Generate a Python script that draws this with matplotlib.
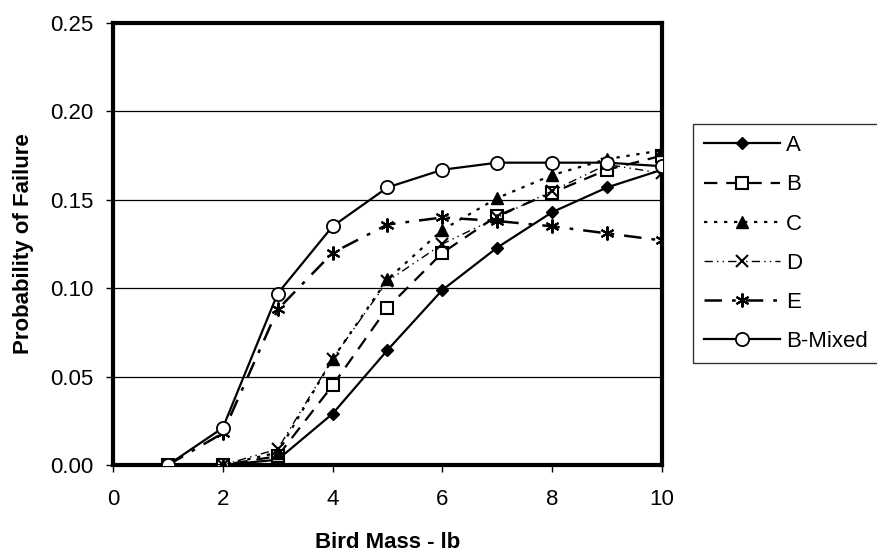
import matplotlib
matplotlib.use("Agg")
import matplotlib.pyplot as plt

plt.rcParams['font.family'] = ['Liberation Sans', 'DejaVu Sans']

mass = [1, 2, 3, 4, 5, 6, 7, 8, 9, 10]
A = [0.000, 0.000, 0.003, 0.029, 0.065, 0.099, 0.123, 0.143, 0.157, 0.167]
B = [0.000, 0.000, 0.005, 0.045, 0.089, 0.120, 0.141, 0.154, 0.167, 0.175]
C = [0.000, 0.000, 0.007, 0.060, 0.105, 0.133, 0.151, 0.164, 0.173, 0.178]
D = [0.000, 0.000, 0.009, 0.060, 0.104, 0.125, 0.140, 0.155, 0.170, 0.165]
E = [0.000, 0.018, 0.088, 0.120, 0.136, 0.140, 0.138, 0.135, 0.131, 0.127]
BM = [0.000, 0.021, 0.097, 0.135, 0.157, 0.167, 0.171, 0.171, 0.171, 0.169]

xticks = [0, 2, 4, 6, 8, 10]
yticks = [0.00, 0.05, 0.10, 0.15, 0.20, 0.25]

fig = plt.figure(figsize=(8.78, 5.52), dpi=100)
ax = fig.add_axes([113/878, 1-465/552, (662-113)/878, (465-23)/552])

for yv in yticks[1:-1]:
    ax.axhline(yv, color='black', lw=0.9, zorder=1)

k = dict(color='black', zorder=3)
ax.plot(mass, A, '-', lw=1.6, marker='D', ms=6.5, mfc='black', mec='black', label='A', **k)
ax.plot(mass, B, lw=1.6, dashes=(6, 4), marker='s', ms=8.5, mfc='white', mec='black', mew=1.5, label='B', **k)
ax.plot(mass, C, lw=1.6, dashes=(1.5, 3), marker='^', ms=8.5, mfc='black', mec='black', label='C', **k)
ax.plot(mass, D, lw=1.0, dashes=(6, 3, 1, 3, 1, 3), marker='x', ms=8, mew=1.5, label='D', **k)
ax.plot(mass, E, lw=1.8, dashes=(7, 4, 1.5, 4), marker=(6, 2, 0), ms=10, mew=1.5, label='E', **k)
ax.plot(mass, BM, '-', lw=1.6, marker='o', ms=9.5, mfc='white', mec='black', mew=1.3, label='B-Mixed', **k)

ax.set_xlim(0, 10)
ax.set_ylim(0, 0.25)
ax.set_xticks(xticks)
ax.set_yticks(yticks)
ax.set_xticklabels([str(v) for v in xticks])
ax.set_yticklabels([f"{v:.2f}" for v in yticks])
ax.tick_params(axis='both', direction='out', length=5, width=1, labelsize=16, colors='black')
ax.tick_params(axis='x', pad=12)
ax.tick_params(axis='y', pad=9)
for s in ax.spines.values():
    s.set_linewidth(3)
    s.set_color('black')

ax.set_xlabel('Bird Mass - lb', fontsize=16, fontweight='bold', labelpad=16)
ax.set_ylabel('Probability of Failure', fontsize=16, fontweight='bold', labelpad=12)

leg = fig.legend(loc='upper left', bbox_to_anchor=(693/878, 1-124/552), fontsize=16,
                 handlelength=3.4, labelspacing=0.82, frameon=True, fancybox=False,
                 edgecolor='black', borderpad=0.5, handletextpad=0.3, borderaxespad=0)
leg.get_frame().set_linewidth(1.0)

fig.savefig('out.png', dpi=100)
